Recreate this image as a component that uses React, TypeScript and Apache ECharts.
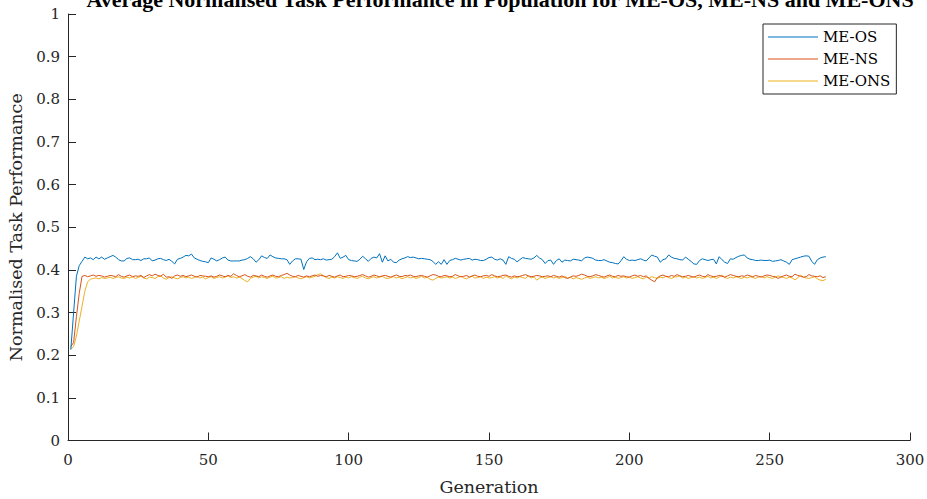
import React, { useEffect, useRef } from "react";
import * as echarts from "echarts";

const TITLE = "Average Normalised Task Performance in Population for ME-OS, ME-NS and ME-ONS";
const X_NAME = "Generation";
const Y_NAME = "Normalised Task Performance";
const SERIES_NAMES = ["ME-OS", "ME-NS", "ME-ONS"];
const COLORS = ["#0072BD", "#D95319", "#EDB120"];

const meOS = [
  0.213, 0.300, 0.385, 0.410, 0.420, 0.430, 0.426, 0.428, 0.424, 0.430,
  0.426, 0.430, 0.425, 0.428, 0.431, 0.434, 0.430, 0.424, 0.421, 0.421,
  0.427, 0.428, 0.424, 0.424, 0.425, 0.422, 0.426, 0.426, 0.428, 0.421,
  0.423, 0.426, 0.427, 0.424, 0.422, 0.425, 0.420, 0.414, 0.425, 0.427,
  0.430, 0.434, 0.433, 0.437, 0.428, 0.425, 0.422, 0.420, 0.419, 0.417,
  0.428, 0.425, 0.421, 0.424, 0.428, 0.430, 0.423, 0.421, 0.421, 0.421,
  0.421, 0.423, 0.424, 0.427, 0.431, 0.426, 0.418, 0.424, 0.433, 0.429,
  0.427, 0.435, 0.431, 0.428, 0.427, 0.426, 0.426, 0.424, 0.413, 0.421,
  0.426, 0.426, 0.425, 0.401, 0.419, 0.427, 0.428, 0.424, 0.425, 0.424,
  0.426, 0.423, 0.424, 0.425, 0.431, 0.440, 0.427, 0.430, 0.434, 0.424,
  0.422, 0.421, 0.420, 0.425, 0.432, 0.426, 0.420, 0.427, 0.430, 0.428,
  0.438, 0.418, 0.433, 0.421, 0.425, 0.418, 0.417, 0.423, 0.426, 0.428,
  0.431, 0.429, 0.430, 0.428, 0.426, 0.427, 0.426, 0.425, 0.424, 0.420,
  0.413, 0.419, 0.413, 0.424, 0.413, 0.422, 0.424, 0.427, 0.425, 0.423,
  0.425, 0.426, 0.427, 0.423, 0.425, 0.424, 0.422, 0.422, 0.425, 0.429,
  0.430, 0.425, 0.423, 0.426, 0.423, 0.413, 0.431, 0.427, 0.425, 0.419,
  0.424, 0.429, 0.427, 0.426, 0.425, 0.428, 0.434, 0.428, 0.424, 0.415,
  0.422, 0.423, 0.413, 0.422, 0.426, 0.418, 0.423, 0.422, 0.421, 0.425,
  0.424, 0.423, 0.421, 0.428, 0.430, 0.429, 0.427, 0.423, 0.422, 0.422,
  0.424, 0.421, 0.418, 0.417, 0.415, 0.414, 0.421, 0.431, 0.425, 0.422,
  0.423, 0.422, 0.424, 0.426, 0.423, 0.421, 0.428, 0.435, 0.432, 0.430,
  0.418, 0.424, 0.426, 0.435, 0.430, 0.427, 0.426, 0.424, 0.423, 0.430,
  0.425, 0.420, 0.414, 0.413, 0.422, 0.426, 0.424, 0.422, 0.424, 0.425,
  0.414, 0.431, 0.424, 0.418, 0.415, 0.426, 0.425, 0.429, 0.432, 0.434,
  0.435, 0.428, 0.425, 0.424, 0.422, 0.422, 0.423, 0.422, 0.422, 0.423,
  0.420, 0.421, 0.422, 0.424, 0.421, 0.418, 0.413, 0.424, 0.426, 0.428,
  0.430, 0.432, 0.433, 0.432, 0.420, 0.413, 0.424, 0.428, 0.430, 0.431,
];

const meNS = [
  0.220, 0.230, 0.290, 0.345, 0.385, 0.387, 0.384, 0.386, 0.388, 0.385,
  0.387, 0.386, 0.383, 0.385, 0.387, 0.386, 0.384, 0.389, 0.385, 0.383,
  0.386, 0.388, 0.384, 0.386, 0.385, 0.387, 0.382, 0.386, 0.389, 0.386,
  0.390, 0.387, 0.385, 0.390, 0.383, 0.384, 0.380, 0.386, 0.388, 0.385,
  0.387, 0.384, 0.386, 0.388, 0.385, 0.383, 0.387, 0.386, 0.385, 0.384,
  0.386, 0.383, 0.385, 0.388, 0.386, 0.384, 0.387, 0.385, 0.391, 0.387,
  0.384, 0.386, 0.389, 0.385, 0.383, 0.387, 0.386, 0.384, 0.388, 0.385,
  0.383, 0.386, 0.388, 0.385, 0.384, 0.387, 0.389, 0.392, 0.388, 0.385,
  0.384, 0.387, 0.385, 0.383, 0.386, 0.384, 0.386, 0.388, 0.385, 0.387,
  0.386, 0.384, 0.387, 0.385, 0.383, 0.386, 0.388, 0.384, 0.385, 0.387,
  0.386, 0.384, 0.385, 0.387, 0.389, 0.386, 0.383, 0.385, 0.388, 0.386,
  0.384, 0.386, 0.387, 0.385, 0.383, 0.386, 0.388, 0.385, 0.384, 0.387,
  0.386, 0.388, 0.385, 0.384, 0.386, 0.387, 0.385, 0.383, 0.386, 0.389,
  0.388, 0.385, 0.384, 0.387, 0.386, 0.384, 0.385, 0.389, 0.386, 0.384,
  0.385, 0.387, 0.383, 0.386, 0.388, 0.385, 0.384, 0.386, 0.387, 0.385,
  0.389, 0.386, 0.384, 0.385, 0.387, 0.388, 0.385, 0.383, 0.386, 0.384,
  0.385, 0.387, 0.389, 0.386, 0.384, 0.385, 0.387, 0.386, 0.384, 0.385,
  0.386, 0.384, 0.387, 0.385, 0.383, 0.386, 0.382, 0.380, 0.383, 0.386,
  0.385, 0.387, 0.390, 0.388, 0.385, 0.384, 0.386, 0.389, 0.387, 0.385,
  0.383, 0.386, 0.388, 0.385, 0.384, 0.387, 0.385, 0.386, 0.384, 0.383,
  0.386, 0.388, 0.385, 0.387, 0.384, 0.386, 0.380, 0.376, 0.372, 0.382,
  0.386, 0.388, 0.385, 0.384, 0.387, 0.385, 0.389, 0.386, 0.384, 0.385,
  0.387, 0.385, 0.383, 0.386, 0.388, 0.385, 0.384, 0.389, 0.386, 0.384,
  0.385, 0.387, 0.385, 0.383, 0.386, 0.389, 0.387, 0.385, 0.384, 0.386,
  0.385, 0.388, 0.386, 0.384, 0.387, 0.385, 0.383, 0.386, 0.388, 0.387,
  0.385, 0.384, 0.380, 0.383, 0.386, 0.388, 0.385, 0.384, 0.390, 0.387,
  0.385, 0.383, 0.384, 0.389, 0.386, 0.385, 0.384, 0.386, 0.382, 0.384,
];

const meONS = [
  0.215, 0.220, 0.245, 0.280, 0.315, 0.350, 0.372, 0.378, 0.380, 0.381,
  0.379, 0.382, 0.380, 0.381, 0.383, 0.380, 0.382, 0.384, 0.381, 0.380,
  0.383, 0.381, 0.384, 0.380, 0.382, 0.385, 0.381, 0.379, 0.383, 0.382,
  0.380, 0.384, 0.386, 0.381, 0.378, 0.382, 0.384, 0.381, 0.379, 0.382,
  0.384, 0.381, 0.383, 0.380, 0.382, 0.385, 0.381, 0.383, 0.379, 0.382,
  0.384, 0.380, 0.382, 0.384, 0.381, 0.383, 0.386, 0.382, 0.384, 0.381,
  0.383, 0.380, 0.375, 0.372, 0.380, 0.383, 0.385, 0.381, 0.384, 0.382,
  0.380, 0.383, 0.385, 0.381, 0.382, 0.384, 0.380, 0.383, 0.381, 0.382,
  0.384, 0.381, 0.379, 0.382, 0.384, 0.381, 0.383, 0.385, 0.389, 0.391,
  0.386, 0.382, 0.380, 0.383, 0.381, 0.384, 0.382, 0.380, 0.383, 0.381,
  0.384, 0.382, 0.380, 0.383, 0.385, 0.381, 0.379, 0.382, 0.384, 0.381,
  0.383, 0.385, 0.381, 0.380, 0.382, 0.384, 0.381, 0.383, 0.379, 0.382,
  0.384, 0.381, 0.383, 0.380, 0.382, 0.385, 0.381, 0.383, 0.378, 0.376,
  0.380, 0.383, 0.381, 0.382, 0.384, 0.381, 0.383, 0.380, 0.382, 0.385,
  0.381, 0.379, 0.383, 0.385, 0.381, 0.382, 0.384, 0.380, 0.383, 0.381,
  0.382, 0.384, 0.381, 0.383, 0.380, 0.386, 0.382, 0.379, 0.383, 0.381,
  0.384, 0.382, 0.380, 0.386, 0.381, 0.383, 0.376, 0.381, 0.383, 0.380,
  0.382, 0.384, 0.381, 0.383, 0.380, 0.382, 0.385, 0.381, 0.383, 0.379,
  0.382, 0.380, 0.378, 0.381, 0.383, 0.380, 0.382, 0.384, 0.381, 0.383,
  0.380, 0.382, 0.385, 0.381, 0.383, 0.380, 0.382, 0.384, 0.381, 0.383,
  0.380, 0.382, 0.384, 0.381, 0.379, 0.383, 0.381, 0.384, 0.382, 0.380,
  0.383, 0.381, 0.385, 0.382, 0.380, 0.383, 0.384, 0.386, 0.381, 0.383,
  0.380, 0.382, 0.384, 0.381, 0.383, 0.380, 0.382, 0.385, 0.381, 0.383,
  0.380, 0.383, 0.388, 0.382, 0.380, 0.383, 0.381, 0.384, 0.382, 0.380,
  0.383, 0.381, 0.384, 0.382, 0.380, 0.383, 0.385, 0.381, 0.384, 0.382,
  0.380, 0.383, 0.386, 0.384, 0.382, 0.380, 0.383, 0.381, 0.377, 0.381,
  0.388, 0.383, 0.381, 0.380, 0.382, 0.384, 0.379, 0.376, 0.375, 0.378,
];

const FONT = "'DejaVu Serif', 'Liberation Serif', serif";
const AXIS_COLOR = "#262626";

function toPoints(values: number[]) {
  return values.map((v, i) => [i + 1, v]);
}

export default function App() {
  const ref = useRef<HTMLDivElement>(null);
  useEffect(() => {
    if (!ref.current) return;
    const chart = echarts.init(ref.current, null, { renderer: "svg" });
    const allSeries = [meOS, meNS, meONS];
    chart.setOption({
      animation: false,
      backgroundColor: "#ffffff",
      color: COLORS,
      title: {
        text: TITLE,
        left: 495,
        top: -17,
        textAlign: "center",
        textStyle: {
          fontFamily: "'Liberation Serif', serif",
          fontWeight: "bold",
          fontSize: 22,
          color: "#000000",
        },
      },
      grid: {
        left: 68,
        right: 17,
        top: 14,
        bottom: 58.5,
        containLabel: false,
        outerBoundsMode: "none",
      },
      legend: {
        orient: "vertical",
        left: 763,
        top: 24,
        padding: [5, 6, 5, 5],
        itemGap: 6,
        itemWidth: 50,
        itemHeight: 1.2,
        icon: "rect",
        backgroundColor: "#ffffff",
        borderColor: AXIS_COLOR,
        borderWidth: 1,
        borderRadius: 0,
        itemStyle: { borderWidth: 0 },
        data: SERIES_NAMES.map((n, i) => ({ name: n, itemStyle: { color: COLORS[i] } })),
        textStyle: { fontFamily: FONT, fontSize: 15, lineHeight: 16, color: "#000000", padding: [0, 0, 0, 0] },
      },
      xAxis: {
        type: "value",
        min: 0,
        max: 300,
        interval: 50,
        name: X_NAME,
        nameLocation: "middle",
        nameGap: 37,
        nameTextStyle: { fontFamily: FONT, fontSize: 17.5, color: AXIS_COLOR },
        axisLine: { show: true, lineStyle: { color: AXIS_COLOR, width: 1 } },
        axisTick: { show: true, inside: true, length: 8, lineStyle: { color: AXIS_COLOR } },
        axisLabel: { fontFamily: FONT, fontSize: 15, color: AXIS_COLOR, margin: 12 },
        splitLine: { show: false },
      },
      yAxis: {
        type: "value",
        min: 0,
        max: 1,
        interval: 0.1,
        name: Y_NAME,
        nameLocation: "middle",
        nameGap: 42,
        nameTextStyle: { fontFamily: FONT, fontSize: 17.5, color: AXIS_COLOR },
        axisLine: { show: true, lineStyle: { color: AXIS_COLOR, width: 1 } },
        axisTick: { show: true, inside: true, length: 8, lineStyle: { color: AXIS_COLOR } },
        axisLabel: { fontFamily: FONT, fontSize: 15, color: AXIS_COLOR, margin: 8 },
        splitLine: { show: false },
      },
      series: SERIES_NAMES.map((name, i) => ({
        name,
        type: "line",
        data: toPoints(allSeries[i]),
        symbol: "none",
        color: COLORS[i],
        lineStyle: { color: COLORS[i], width: 1 },
        itemStyle: { color: COLORS[i] },
        z: 3 - i,
      })),
    });
    return () => chart.dispose();
  }, []);
  return (
    <div
      ref={ref}
      style={{ position: "fixed", left: 0, top: 0, width: 927, height: 499, background: "#fff" }}
    />
  );
}
